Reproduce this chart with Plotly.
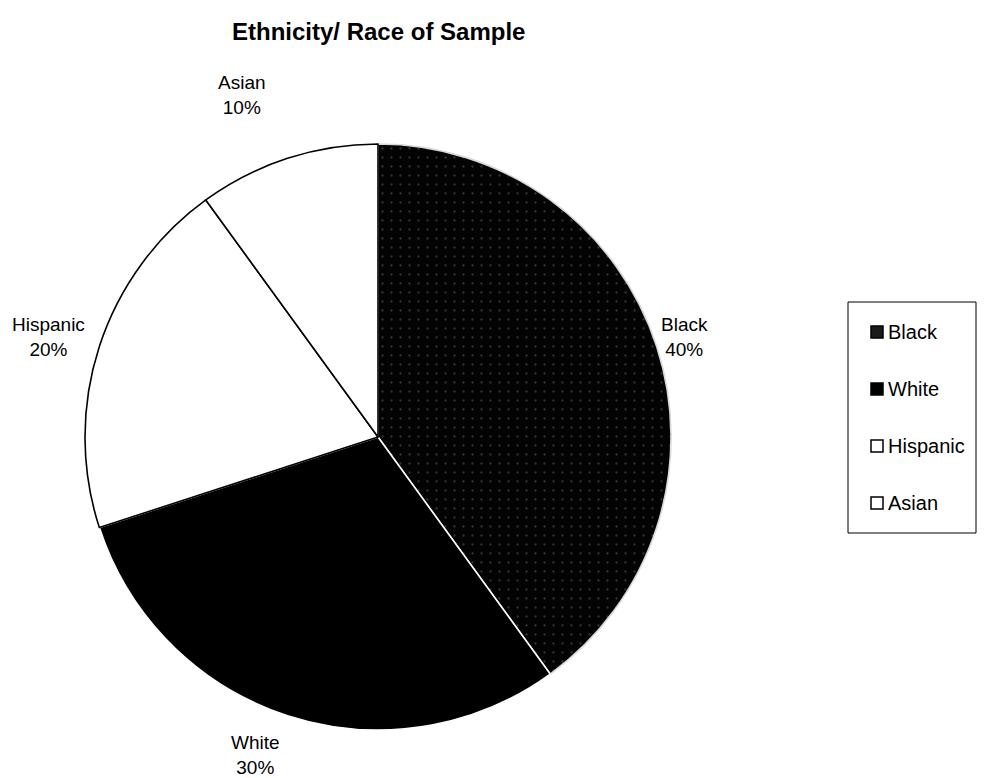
import plotly.graph_objects as go

# Sample composition by ethnicity / race
categories = ["Black", "White", "Hispanic", "Asian"]
shares = [40, 30, 20, 10]
fill_colors = ["#030303", "#000000", "#ffffff", "#ffffff"]
edge_colors = ["#d8d8d8", "#ffffff", "#000000", "#000000"]
dot_shapes = [".", "", "", ""]

W, H = 986, 778
FONT = "Liberation Sans, Arial, sans-serif"


def px(x):
    return x / W


def py(y):
    return 1 - y / H


fig = go.Figure(
    go.Pie(
        labels=categories,
        values=shares,
        sort=False,
        direction="clockwise",
        rotation=0,
        textinfo="none",
        hoverinfo="label+percent",
        marker=dict(
            colors=fill_colors,
            line=dict(color=edge_colors, width=1.6),
            pattern=dict(
                shape=dot_shapes,
                fgcolor="#353535",
                bgcolor="#030303",
                size=9,
                solidity=0.05,
            ),
        ),
        domain=dict(x=[px(85), px(671)], y=[py(730), py(144)]),
        showlegend=False,
    )
)

# Slice labels placed around the rim
label_pos = {
    "Black": (684, 337),
    "White": (255, 755),
    "Hispanic": (48, 337),
    "Asian": (242, 95),
}
total = sum(shares)
annotations = []
for name, val in zip(categories, shares):
    x, y = label_pos[name]
    annotations.append(
        dict(
            x=px(x), y=py(y), xref="paper", yref="paper",
            text=f"{name}<br>{round(100 * val / total)}%",
            showarrow=False, xanchor="center", yanchor="middle",
            font=dict(family=FONT, size=19, color="#000"),
        )
    )

# Legend box drawn by hand
shapes = [
    dict(type="rect", xref="paper", yref="paper",
         x0=px(848), x1=px(976), y0=py(533), y1=py(302),
         line=dict(color="#000", width=1), fillcolor="#fff")
]
legend_y = [332, 389, 446, 503]
swatch_fill = ["#1a1a1a", "#000000", "#ffffff", "#ffffff"]
for name, yy, sf in zip(categories, legend_y, swatch_fill):
    shapes.append(
        dict(type="rect", xref="paper", yref="paper",
             x0=px(871), x1=px(883), y0=py(yy + 6), y1=py(yy - 6),
             line=dict(color="#000", width=1.5), fillcolor=sf)
    )
    annotations.append(
        dict(x=px(886), y=py(yy), xref="paper", yref="paper",
             text=name, showarrow=False, xanchor="left", yanchor="middle",
             font=dict(family=FONT, size=20, color="#000"))
    )

annotations.append(
    dict(x=px(378), y=py(31), xref="paper", yref="paper",
         text="<b>Ethnicity/ Race of Sample</b>", showarrow=False,
         xanchor="center", yanchor="middle",
         font=dict(family=FONT, size=24, color="#000"))
)

fig.update_layout(
    width=W, height=H,
    margin=dict(l=0, r=0, t=0, b=0),
    paper_bgcolor="#fff", plot_bgcolor="#fff",
    annotations=annotations, shapes=shapes,
)

fig.write_html("out.html")
